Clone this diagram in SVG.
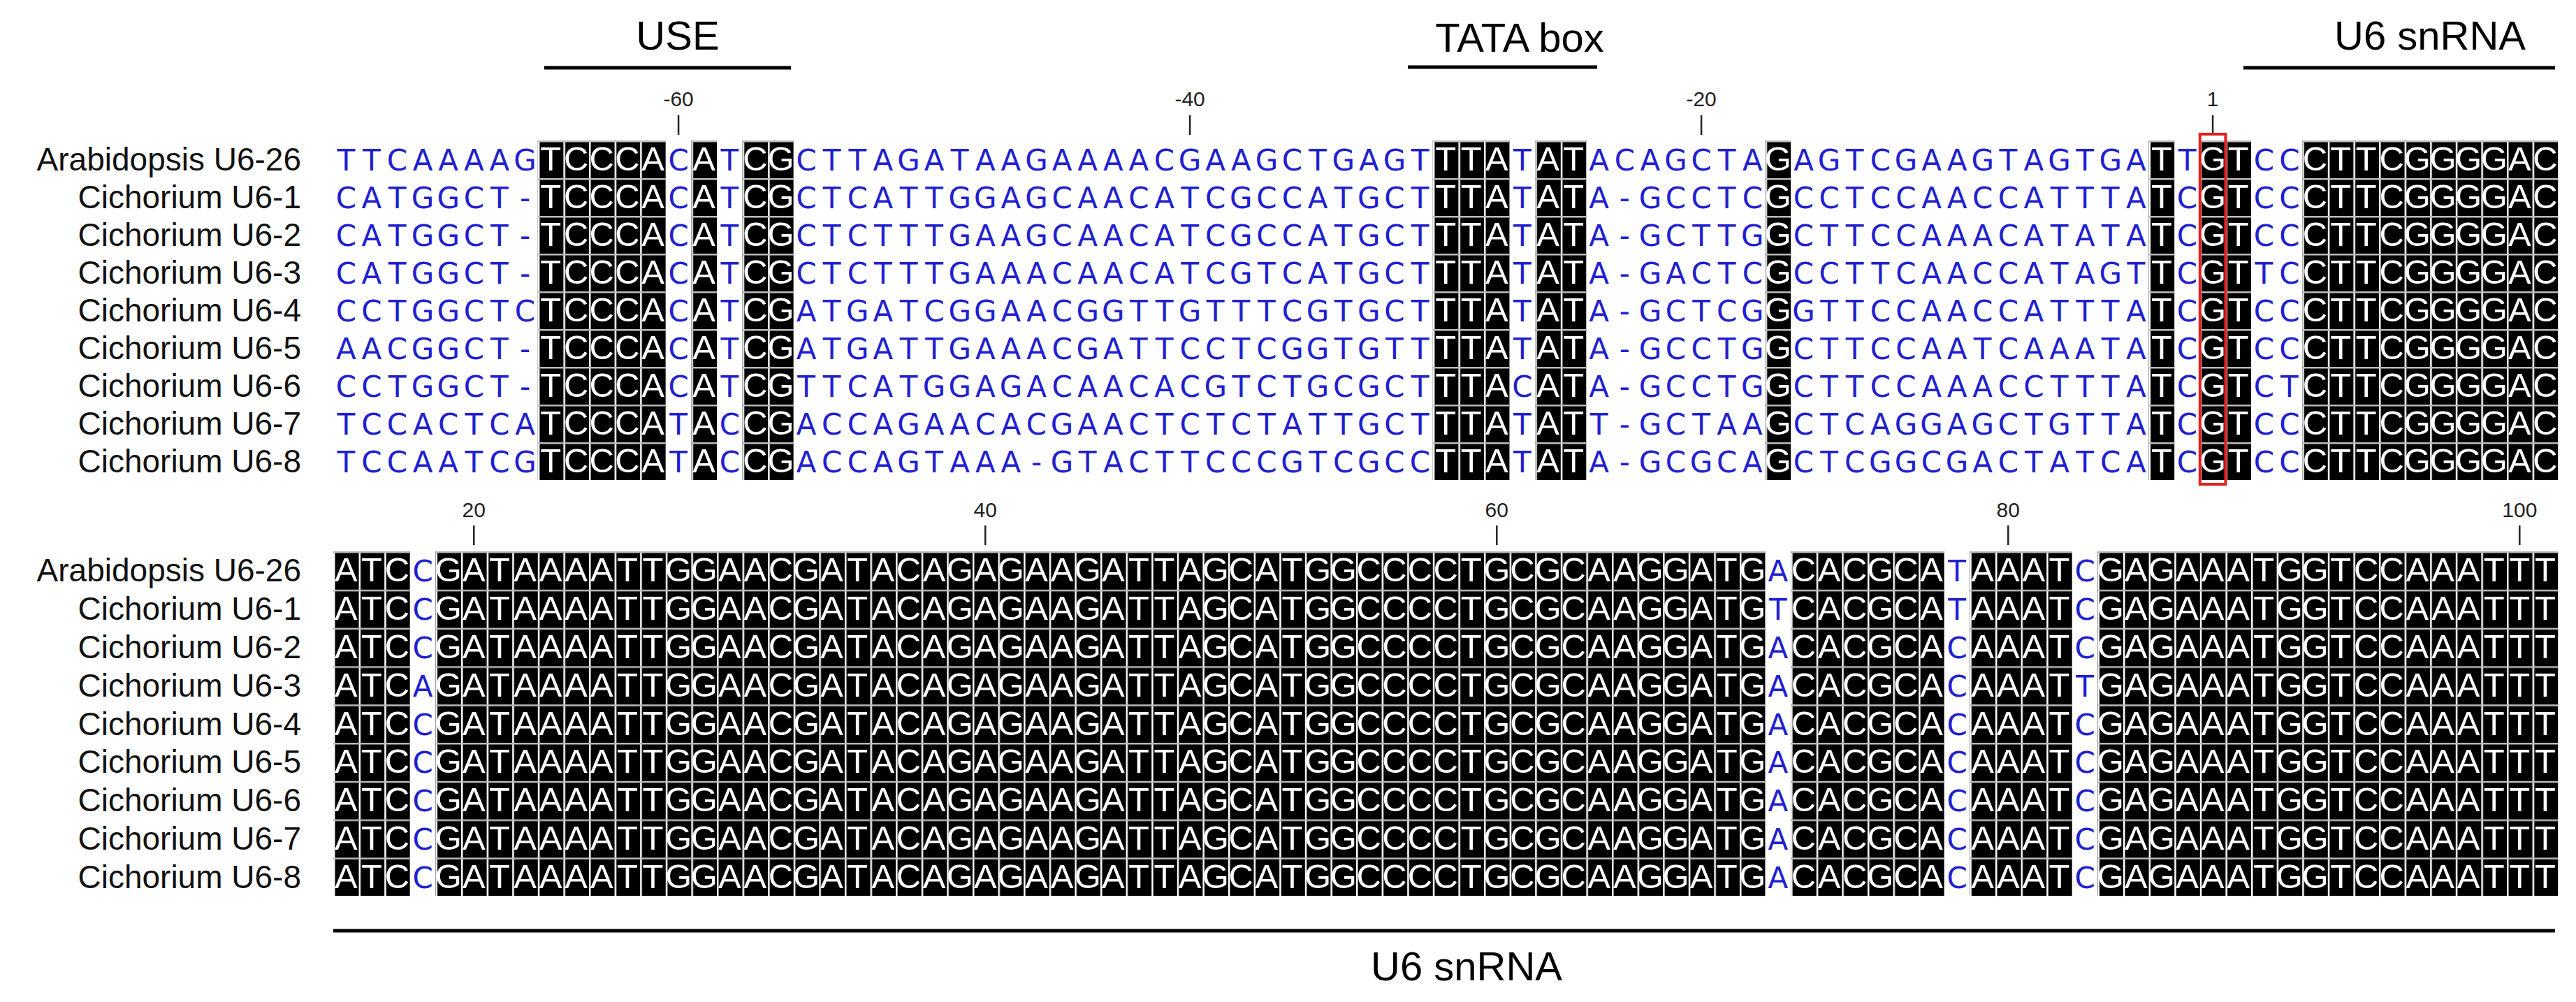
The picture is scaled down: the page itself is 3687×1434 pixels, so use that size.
<svg xmlns="http://www.w3.org/2000/svg" xmlns:xlink="http://www.w3.org/1999/xlink" width="3687" height="1434" viewBox="0 0 3687 1434">
<style>
.lab{font-family:"Liberation Sans",Arial,sans-serif;font-size:46px;fill:#111;text-anchor:end}
.tick{font-family:"Liberation Sans",Arial,sans-serif;font-size:30px;fill:#222;text-anchor:middle}
.ann{font-family:"Liberation Sans",Arial,sans-serif;font-size:58px;fill:#000;text-anchor:middle}
.b{font-family:"DejaVu Sans",Verdana,sans-serif;font-size:42px;fill:#2020d0;text-anchor:middle}
.w{font-family:"Liberation Sans",Arial,sans-serif;font-size:49px;fill:#fff;text-anchor:middle}
.bar{stroke:#000;stroke-width:5}
.tk{stroke:#222;stroke-width:2.5}
</style>
<defs>
<pattern id="gridT" patternUnits="userSpaceOnUse" x="477" y="201" width="36.6" height="54"><rect x="0" y="0" width="2.5" height="54" fill="#fff"/><rect x="0" y="0" width="36.6" height="2.5" fill="#bbb"/></pattern>
<pattern id="gridB" patternUnits="userSpaceOnUse" x="477" y="789" width="36.6" height="54.8"><rect x="0" y="0" width="2.5" height="54.8" fill="#fff"/><rect x="0" y="0" width="36.6" height="2.5" fill="#bbb"/></pattern>
<clipPath id="clipT">
<rect x="769.8" y="201" width="183" height="486"/><rect x="989.4" y="201" width="36.6" height="486"/><rect x="1062.6" y="201" width="73.2" height="486"/><rect x="2050.8" y="201" width="109.8" height="486"/><rect x="2197.2" y="201" width="73.2" height="486"/><rect x="2526.6" y="201" width="36.6" height="486"/><rect x="3075.6" y="201" width="36.6" height="486"/><rect x="3148.8" y="201" width="73.2" height="486"/><rect x="3295.2" y="201" width="366" height="486"/>
</clipPath>
<clipPath id="clipB">
<rect x="477" y="789" width="109.8" height="493.2"/><rect x="623.4" y="789" width="1903.2" height="493.2"/><rect x="2563.2" y="789" width="219.6" height="493.2"/><rect x="2819.4" y="789" width="146.4" height="493.2"/><rect x="3002.4" y="789" width="658.8" height="493.2"/>
</clipPath>
<text id="t0" y="244" x="495.3 531.9 568.5 605.1 641.7 678.3 714.9 751.5 788.1 824.7 861.3 897.9 934.5 971.1 1007.7 1044.3 1080.9 1117.5 1154.1 1190.7 1227.3 1263.9 1300.5 1337.1 1373.7 1410.3 1446.9 1483.5 1520.1 1556.7 1593.3 1629.9 1666.5 1703.1 1739.7 1776.3 1812.9 1849.5 1886.1 1922.7 1959.3 1995.9 2032.5 2069.1 2105.7 2142.3 2178.9 2215.5 2252.1 2288.7 2325.3 2361.9 2398.5 2435.1 2471.7 2508.3 2544.9 2581.5 2618.1 2654.7 2691.3 2727.9 2764.5 2801.1 2837.7 2874.3 2910.9 2947.5 2984.1 3020.7 3057.3 3093.9 3130.5 3167.1 3203.7 3240.3 3276.9 3313.5 3350.1 3386.7 3423.3 3459.9 3496.5 3533.1 3569.7 3606.3 3642.9">TTCAAAAGTCCCACATCGCTTAGATAAGAAAACGAAGCTGAGTTTATATACAGCTAGAGTCGAAGTAGTGATTGTCCCTTCGGGGAC</text>
<text id="t1" y="298" x="495.3 531.9 568.5 605.1 641.7 678.3 714.9 751.5 788.1 824.7 861.3 897.9 934.5 971.1 1007.7 1044.3 1080.9 1117.5 1154.1 1190.7 1227.3 1263.9 1300.5 1337.1 1373.7 1410.3 1446.9 1483.5 1520.1 1556.7 1593.3 1629.9 1666.5 1703.1 1739.7 1776.3 1812.9 1849.5 1886.1 1922.7 1959.3 1995.9 2032.5 2069.1 2105.7 2142.3 2178.9 2215.5 2252.1 2288.7 2325.3 2361.9 2398.5 2435.1 2471.7 2508.3 2544.9 2581.5 2618.1 2654.7 2691.3 2727.9 2764.5 2801.1 2837.7 2874.3 2910.9 2947.5 2984.1 3020.7 3057.3 3093.9 3130.5 3167.1 3203.7 3240.3 3276.9 3313.5 3350.1 3386.7 3423.3 3459.9 3496.5 3533.1 3569.7 3606.3 3642.9">CATGGCT-TCCCACATCGCTCATTGGAGCAACATCGCCATGCTTTATATA-GCCTCGCCTCCAACCATTTATCGTCCCTTCGGGGAC</text>
<text id="t2" y="352" x="495.3 531.9 568.5 605.1 641.7 678.3 714.9 751.5 788.1 824.7 861.3 897.9 934.5 971.1 1007.7 1044.3 1080.9 1117.5 1154.1 1190.7 1227.3 1263.9 1300.5 1337.1 1373.7 1410.3 1446.9 1483.5 1520.1 1556.7 1593.3 1629.9 1666.5 1703.1 1739.7 1776.3 1812.9 1849.5 1886.1 1922.7 1959.3 1995.9 2032.5 2069.1 2105.7 2142.3 2178.9 2215.5 2252.1 2288.7 2325.3 2361.9 2398.5 2435.1 2471.7 2508.3 2544.9 2581.5 2618.1 2654.7 2691.3 2727.9 2764.5 2801.1 2837.7 2874.3 2910.9 2947.5 2984.1 3020.7 3057.3 3093.9 3130.5 3167.1 3203.7 3240.3 3276.9 3313.5 3350.1 3386.7 3423.3 3459.9 3496.5 3533.1 3569.7 3606.3 3642.9">CATGGCT-TCCCACATCGCTCTTTGAAGCAACATCGCCATGCTTTATATA-GCTTGGCTTCCAAACATATATCGTCCCTTCGGGGAC</text>
<text id="t3" y="406" x="495.3 531.9 568.5 605.1 641.7 678.3 714.9 751.5 788.1 824.7 861.3 897.9 934.5 971.1 1007.7 1044.3 1080.9 1117.5 1154.1 1190.7 1227.3 1263.9 1300.5 1337.1 1373.7 1410.3 1446.9 1483.5 1520.1 1556.7 1593.3 1629.9 1666.5 1703.1 1739.7 1776.3 1812.9 1849.5 1886.1 1922.7 1959.3 1995.9 2032.5 2069.1 2105.7 2142.3 2178.9 2215.5 2252.1 2288.7 2325.3 2361.9 2398.5 2435.1 2471.7 2508.3 2544.9 2581.5 2618.1 2654.7 2691.3 2727.9 2764.5 2801.1 2837.7 2874.3 2910.9 2947.5 2984.1 3020.7 3057.3 3093.9 3130.5 3167.1 3203.7 3240.3 3276.9 3313.5 3350.1 3386.7 3423.3 3459.9 3496.5 3533.1 3569.7 3606.3 3642.9">CATGGCT-TCCCACATCGCTCTTTGAAACAACATCGTCATGCTTTATATA-GACTCGCCTTCAACCATAGTTCGTTCCTTCGGGGAC</text>
<text id="t4" y="460" x="495.3 531.9 568.5 605.1 641.7 678.3 714.9 751.5 788.1 824.7 861.3 897.9 934.5 971.1 1007.7 1044.3 1080.9 1117.5 1154.1 1190.7 1227.3 1263.9 1300.5 1337.1 1373.7 1410.3 1446.9 1483.5 1520.1 1556.7 1593.3 1629.9 1666.5 1703.1 1739.7 1776.3 1812.9 1849.5 1886.1 1922.7 1959.3 1995.9 2032.5 2069.1 2105.7 2142.3 2178.9 2215.5 2252.1 2288.7 2325.3 2361.9 2398.5 2435.1 2471.7 2508.3 2544.9 2581.5 2618.1 2654.7 2691.3 2727.9 2764.5 2801.1 2837.7 2874.3 2910.9 2947.5 2984.1 3020.7 3057.3 3093.9 3130.5 3167.1 3203.7 3240.3 3276.9 3313.5 3350.1 3386.7 3423.3 3459.9 3496.5 3533.1 3569.7 3606.3 3642.9">CCTGGCTCTCCCACATCGATGATCGGAACGGTTGTTTCGTGCTTTATATA-GCTCGGGTTCCAACCATTTATCGTCCCTTCGGGGAC</text>
<text id="t5" y="514" x="495.3 531.9 568.5 605.1 641.7 678.3 714.9 751.5 788.1 824.7 861.3 897.9 934.5 971.1 1007.7 1044.3 1080.9 1117.5 1154.1 1190.7 1227.3 1263.9 1300.5 1337.1 1373.7 1410.3 1446.9 1483.5 1520.1 1556.7 1593.3 1629.9 1666.5 1703.1 1739.7 1776.3 1812.9 1849.5 1886.1 1922.7 1959.3 1995.9 2032.5 2069.1 2105.7 2142.3 2178.9 2215.5 2252.1 2288.7 2325.3 2361.9 2398.5 2435.1 2471.7 2508.3 2544.9 2581.5 2618.1 2654.7 2691.3 2727.9 2764.5 2801.1 2837.7 2874.3 2910.9 2947.5 2984.1 3020.7 3057.3 3093.9 3130.5 3167.1 3203.7 3240.3 3276.9 3313.5 3350.1 3386.7 3423.3 3459.9 3496.5 3533.1 3569.7 3606.3 3642.9">AACGGCT-TCCCACATCGATGATTGAAACGATTCCTCGGTGTTTTATATA-GCCTGGCTTCCAATCAAATATCGTCCCTTCGGGGAC</text>
<text id="t6" y="568" x="495.3 531.9 568.5 605.1 641.7 678.3 714.9 751.5 788.1 824.7 861.3 897.9 934.5 971.1 1007.7 1044.3 1080.9 1117.5 1154.1 1190.7 1227.3 1263.9 1300.5 1337.1 1373.7 1410.3 1446.9 1483.5 1520.1 1556.7 1593.3 1629.9 1666.5 1703.1 1739.7 1776.3 1812.9 1849.5 1886.1 1922.7 1959.3 1995.9 2032.5 2069.1 2105.7 2142.3 2178.9 2215.5 2252.1 2288.7 2325.3 2361.9 2398.5 2435.1 2471.7 2508.3 2544.9 2581.5 2618.1 2654.7 2691.3 2727.9 2764.5 2801.1 2837.7 2874.3 2910.9 2947.5 2984.1 3020.7 3057.3 3093.9 3130.5 3167.1 3203.7 3240.3 3276.9 3313.5 3350.1 3386.7 3423.3 3459.9 3496.5 3533.1 3569.7 3606.3 3642.9">CCTGGCT-TCCCACATCGTTCATGGAGACAACACGTCTGCGCTTTACATA-GCCTGGCTTCCAAACCTTTATCGTCTCTTCGGGGAC</text>
<text id="t7" y="622" x="495.3 531.9 568.5 605.1 641.7 678.3 714.9 751.5 788.1 824.7 861.3 897.9 934.5 971.1 1007.7 1044.3 1080.9 1117.5 1154.1 1190.7 1227.3 1263.9 1300.5 1337.1 1373.7 1410.3 1446.9 1483.5 1520.1 1556.7 1593.3 1629.9 1666.5 1703.1 1739.7 1776.3 1812.9 1849.5 1886.1 1922.7 1959.3 1995.9 2032.5 2069.1 2105.7 2142.3 2178.9 2215.5 2252.1 2288.7 2325.3 2361.9 2398.5 2435.1 2471.7 2508.3 2544.9 2581.5 2618.1 2654.7 2691.3 2727.9 2764.5 2801.1 2837.7 2874.3 2910.9 2947.5 2984.1 3020.7 3057.3 3093.9 3130.5 3167.1 3203.7 3240.3 3276.9 3313.5 3350.1 3386.7 3423.3 3459.9 3496.5 3533.1 3569.7 3606.3 3642.9">TCCACTCATCCCATACCGACCAGAACACGAACTCTCTATTGCTTTATATT-GCTAAGCTCAGGAGCTGTTATCGTCCCTTCGGGGAC</text>
<text id="t8" y="676" x="495.3 531.9 568.5 605.1 641.7 678.3 714.9 751.5 788.1 824.7 861.3 897.9 934.5 971.1 1007.7 1044.3 1080.9 1117.5 1154.1 1190.7 1227.3 1263.9 1300.5 1337.1 1373.7 1410.3 1446.9 1483.5 1520.1 1556.7 1593.3 1629.9 1666.5 1703.1 1739.7 1776.3 1812.9 1849.5 1886.1 1922.7 1959.3 1995.9 2032.5 2069.1 2105.7 2142.3 2178.9 2215.5 2252.1 2288.7 2325.3 2361.9 2398.5 2435.1 2471.7 2508.3 2544.9 2581.5 2618.1 2654.7 2691.3 2727.9 2764.5 2801.1 2837.7 2874.3 2910.9 2947.5 2984.1 3020.7 3057.3 3093.9 3130.5 3167.1 3203.7 3240.3 3276.9 3313.5 3350.1 3386.7 3423.3 3459.9 3496.5 3533.1 3569.7 3606.3 3642.9">TCCAATCGTCCCATACCGACCAGTAAA-GTACTTCCCGTCGCCTTATATA-GCGCAGCTCGGCGACTATCATCGTCCCTTCGGGGAC</text>
<text id="b0" y="832.4" x="495.3 531.9 568.5 605.1 641.7 678.3 714.9 751.5 788.1 824.7 861.3 897.9 934.5 971.1 1007.7 1044.3 1080.9 1117.5 1154.1 1190.7 1227.3 1263.9 1300.5 1337.1 1373.7 1410.3 1446.9 1483.5 1520.1 1556.7 1593.3 1629.9 1666.5 1703.1 1739.7 1776.3 1812.9 1849.5 1886.1 1922.7 1959.3 1995.9 2032.5 2069.1 2105.7 2142.3 2178.9 2215.5 2252.1 2288.7 2325.3 2361.9 2398.5 2435.1 2471.7 2508.3 2544.9 2581.5 2618.1 2654.7 2691.3 2727.9 2764.5 2801.1 2837.7 2874.3 2910.9 2947.5 2984.1 3020.7 3057.3 3093.9 3130.5 3167.1 3203.7 3240.3 3276.9 3313.5 3350.1 3386.7 3423.3 3459.9 3496.5 3533.1 3569.7 3606.3 3642.9">ATCCGATAAAATTGGAACGATACAGAGAAGATTAGCATGGCCCCTGCGCAAGGATGACACGCATAAATCGAGAAATGGTCCAAATTT</text>
<text id="b1" y="887.2" x="495.3 531.9 568.5 605.1 641.7 678.3 714.9 751.5 788.1 824.7 861.3 897.9 934.5 971.1 1007.7 1044.3 1080.9 1117.5 1154.1 1190.7 1227.3 1263.9 1300.5 1337.1 1373.7 1410.3 1446.9 1483.5 1520.1 1556.7 1593.3 1629.9 1666.5 1703.1 1739.7 1776.3 1812.9 1849.5 1886.1 1922.7 1959.3 1995.9 2032.5 2069.1 2105.7 2142.3 2178.9 2215.5 2252.1 2288.7 2325.3 2361.9 2398.5 2435.1 2471.7 2508.3 2544.9 2581.5 2618.1 2654.7 2691.3 2727.9 2764.5 2801.1 2837.7 2874.3 2910.9 2947.5 2984.1 3020.7 3057.3 3093.9 3130.5 3167.1 3203.7 3240.3 3276.9 3313.5 3350.1 3386.7 3423.3 3459.9 3496.5 3533.1 3569.7 3606.3 3642.9">ATCCGATAAAATTGGAACGATACAGAGAAGATTAGCATGGCCCCTGCGCAAGGATGTCACGCATAAATCGAGAAATGGTCCAAATTT</text>
<text id="b2" y="942" x="495.3 531.9 568.5 605.1 641.7 678.3 714.9 751.5 788.1 824.7 861.3 897.9 934.5 971.1 1007.7 1044.3 1080.9 1117.5 1154.1 1190.7 1227.3 1263.9 1300.5 1337.1 1373.7 1410.3 1446.9 1483.5 1520.1 1556.7 1593.3 1629.9 1666.5 1703.1 1739.7 1776.3 1812.9 1849.5 1886.1 1922.7 1959.3 1995.9 2032.5 2069.1 2105.7 2142.3 2178.9 2215.5 2252.1 2288.7 2325.3 2361.9 2398.5 2435.1 2471.7 2508.3 2544.9 2581.5 2618.1 2654.7 2691.3 2727.9 2764.5 2801.1 2837.7 2874.3 2910.9 2947.5 2984.1 3020.7 3057.3 3093.9 3130.5 3167.1 3203.7 3240.3 3276.9 3313.5 3350.1 3386.7 3423.3 3459.9 3496.5 3533.1 3569.7 3606.3 3642.9">ATCCGATAAAATTGGAACGATACAGAGAAGATTAGCATGGCCCCTGCGCAAGGATGACACGCACAAATCGAGAAATGGTCCAAATTT</text>
<text id="b3" y="996.8" x="495.3 531.9 568.5 605.1 641.7 678.3 714.9 751.5 788.1 824.7 861.3 897.9 934.5 971.1 1007.7 1044.3 1080.9 1117.5 1154.1 1190.7 1227.3 1263.9 1300.5 1337.1 1373.7 1410.3 1446.9 1483.5 1520.1 1556.7 1593.3 1629.9 1666.5 1703.1 1739.7 1776.3 1812.9 1849.5 1886.1 1922.7 1959.3 1995.9 2032.5 2069.1 2105.7 2142.3 2178.9 2215.5 2252.1 2288.7 2325.3 2361.9 2398.5 2435.1 2471.7 2508.3 2544.9 2581.5 2618.1 2654.7 2691.3 2727.9 2764.5 2801.1 2837.7 2874.3 2910.9 2947.5 2984.1 3020.7 3057.3 3093.9 3130.5 3167.1 3203.7 3240.3 3276.9 3313.5 3350.1 3386.7 3423.3 3459.9 3496.5 3533.1 3569.7 3606.3 3642.9">ATCAGATAAAATTGGAACGATACAGAGAAGATTAGCATGGCCCCTGCGCAAGGATGACACGCACAAATTGAGAAATGGTCCAAATTT</text>
<text id="bx" x="495.3 531.9 568.5 605.1 641.7 678.3 714.9 751.5 788.1 824.7 861.3 897.9 934.5 971.1 1007.7 1044.3 1080.9 1117.5 1154.1 1190.7 1227.3 1263.9 1300.5 1337.1 1373.7 1410.3 1446.9 1483.5 1520.1 1556.7 1593.3 1629.9 1666.5 1703.1 1739.7 1776.3 1812.9 1849.5 1886.1 1922.7 1959.3 1995.9 2032.5 2069.1 2105.7 2142.3 2178.9 2215.5 2252.1 2288.7 2325.3 2361.9 2398.5 2435.1 2471.7 2508.3 2544.9 2581.5 2618.1 2654.7 2691.3 2727.9 2764.5 2801.1 2837.7 2874.3 2910.9 2947.5 2984.1 3020.7 3057.3 3093.9 3130.5 3167.1 3203.7 3240.3 3276.9 3313.5 3350.1 3386.7 3423.3 3459.9 3496.5 3533.1 3569.7 3606.3 3642.9" y="0">ATCCGATAAAATTGGAACGATACAGAGAAGATTAGCATGGCCCCTGCGCAAGGATGACACGCACAAATCGAGAAATGGTCCAAATTT</text>
</defs>
<rect width="3687" height="1434" fill="#fff"/>

<g id="annotations">
<text class="ann" x="970" y="71">USE</text>
<line class="bar" x1="779" y1="97" x2="1132" y2="97"/>
<text class="ann" x="2175" y="74">TATA box</text>
<line class="bar" x1="2015" y1="96" x2="2286" y2="96"/>
<text class="ann" x="3478" y="71">U6 snRNA</text>
<line class="bar" x1="3211" y1="97" x2="3657" y2="97"/>
<line class="bar" x1="477" y1="1332" x2="3657" y2="1332"/>
<text class="ann" x="2099" y="1403">U6 snRNA</text>
</g>

<g id="ruler-top">
<text class="tick" x="971.1" y="152">-60</text><line class="tk" x1="971.1" y1="165" x2="971.1" y2="193"/>
<text class="tick" x="1703.1" y="152">-40</text><line class="tk" x1="1703.1" y1="165" x2="1703.1" y2="193"/>
<text class="tick" x="2435.1" y="152">-20</text><line class="tk" x1="2435.1" y1="165" x2="2435.1" y2="193"/>
<text class="tick" x="3167.1" y="152">1</text><line class="tk" x1="3167.1" y1="165" x2="3167.1" y2="193"/>
</g>
<g id="ruler-bottom">
<text class="tick" x="678.3" y="740">20</text><line class="tk" x1="678.3" y1="752" x2="678.3" y2="780"/>
<text class="tick" x="1410.3" y="740">40</text><line class="tk" x1="1410.3" y1="752" x2="1410.3" y2="780"/>
<text class="tick" x="2142.3" y="740">60</text><line class="tk" x1="2142.3" y1="752" x2="2142.3" y2="780"/>
<text class="tick" x="2874.3" y="740">80</text><line class="tk" x1="2874.3" y1="752" x2="2874.3" y2="780"/>
<text class="tick" x="3606.3" y="740">100</text><line class="tk" x1="3606.3" y1="752" x2="3606.3" y2="780"/>
</g>

<g id="labels-top">
<text class="lab" x="431" y="244">Arabidopsis U6-26</text>
<text class="lab" x="431" y="298">Cichorium U6-1</text>
<text class="lab" x="431" y="352">Cichorium U6-2</text>
<text class="lab" x="431" y="406">Cichorium U6-3</text>
<text class="lab" x="431" y="460">Cichorium U6-4</text>
<text class="lab" x="431" y="514">Cichorium U6-5</text>
<text class="lab" x="431" y="568">Cichorium U6-6</text>
<text class="lab" x="431" y="622">Cichorium U6-7</text>
<text class="lab" x="431" y="676">Cichorium U6-8</text>
</g>
<g id="labels-bottom">
<text class="lab" x="431" y="832.4">Arabidopsis U6-26</text>
<text class="lab" x="431" y="887.2">Cichorium U6-1</text>
<text class="lab" x="431" y="942">Cichorium U6-2</text>
<text class="lab" x="431" y="996.8">Cichorium U6-3</text>
<text class="lab" x="431" y="1051.6">Cichorium U6-4</text>
<text class="lab" x="431" y="1106.4">Cichorium U6-5</text>
<text class="lab" x="431" y="1161.2">Cichorium U6-6</text>
<text class="lab" x="431" y="1216">Cichorium U6-7</text>
<text class="lab" x="431" y="1270.8">Cichorium U6-8</text>
</g>

<g id="alignment-top">
<g class="b">
<use xlink:href="#t0"/><use xlink:href="#t1"/><use xlink:href="#t2"/><use xlink:href="#t3"/><use xlink:href="#t4"/><use xlink:href="#t5"/><use xlink:href="#t6"/><use xlink:href="#t7"/><use xlink:href="#t8"/>
</g>
<g clip-path="url(#clipT)">
<rect x="477" y="201" width="3185" height="486" fill="#000"/>
<g class="w">
<use xlink:href="#t0"/><use xlink:href="#t1"/><use xlink:href="#t2"/><use xlink:href="#t3"/><use xlink:href="#t4"/><use xlink:href="#t5"/><use xlink:href="#t6"/><use xlink:href="#t7"/><use xlink:href="#t8"/>
</g>
<rect x="477" y="201" width="3185" height="486" fill="url(#gridT)"/>
</g>
<rect x="3148.8" y="192" width="36.6" height="501" fill="none" stroke="#e3211c" stroke-width="4"/>
</g>

<g id="alignment-bottom">
<g class="b">
<use xlink:href="#b0"/><use xlink:href="#b1"/><use xlink:href="#b2"/><use xlink:href="#b3"/>
<use xlink:href="#bx" y="1051.6"/><use xlink:href="#bx" y="1106.4"/><use xlink:href="#bx" y="1161.2"/><use xlink:href="#bx" y="1216"/><use xlink:href="#bx" y="1270.8"/>
</g>
<g clip-path="url(#clipB)">
<rect x="477" y="789" width="3185" height="493.2" fill="#000"/>
<g class="w">
<use xlink:href="#b0"/><use xlink:href="#b1"/><use xlink:href="#b2"/><use xlink:href="#b3"/>
<use xlink:href="#bx" y="1051.6"/><use xlink:href="#bx" y="1106.4"/><use xlink:href="#bx" y="1161.2"/><use xlink:href="#bx" y="1216"/><use xlink:href="#bx" y="1270.8"/>
</g>
<rect x="477" y="789" width="3185" height="493.2" fill="url(#gridB)"/>
</g>
</g>
</svg>
